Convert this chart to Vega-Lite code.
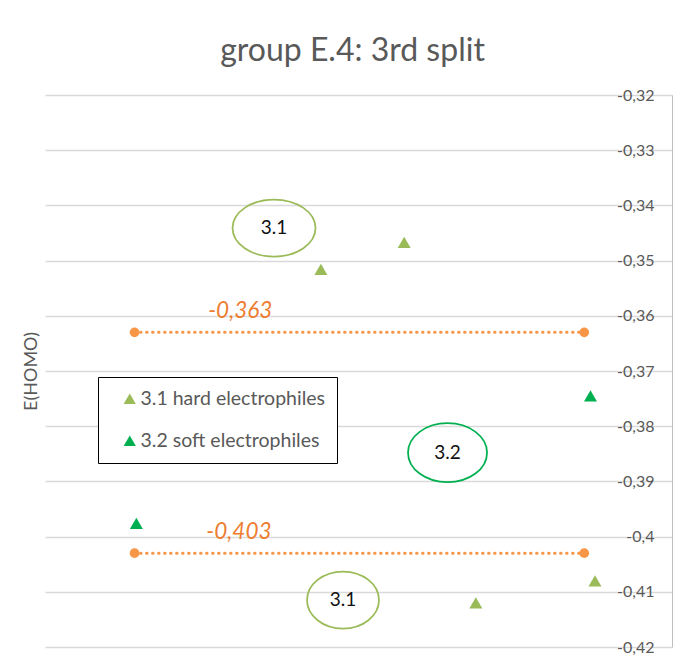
{
  "$schema": "https://vega.github.io/schema/vega-lite/v6.json",
  "width": 627,
  "height": 552,
  "autosize": "none",
  "padding": {"left": 45, "top": 95, "right": 9, "bottom": 16},
  "background": "white",
  "config": {
    "locale": {"number": {"decimal": ",", "thousands": ".", "grouping": [3], "currency": ["", " €"], "minus": "-"}},
    "view": {"stroke": null},
    "font": "Lato"
  },
  "title": {"text": "group E.4: 3rd split", "fontSize": 32, "font": "Lato", "fontWeight": "normal", "color": "#595959", "offset": 19, "dx": -6},
  "datasets": {
    "lines": [
      {"x": 1.0, "y": -0.363, "g": "a"},
      {"x": 6.02, "y": -0.363, "g": "a"},
      {"x": 1.0, "y": -0.403, "g": "b"},
      {"x": 6.02, "y": -0.403, "g": "b"}
    ],
    "pts": [
      {"x": 3.08, "y": -0.3516, "series": "3.1 hard electrophiles"},
      {"x": 4.01, "y": -0.3467, "series": "3.1 hard electrophiles"},
      {"x": 4.81, "y": -0.412, "series": "3.1 hard electrophiles"},
      {"x": 6.14, "y": -0.408, "series": "3.1 hard electrophiles"},
      {"x": 1.02, "y": -0.3976, "series": "3.2 soft electrophiles"},
      {"x": 6.09, "y": -0.3745, "series": "3.2 soft electrophiles"}
    ],
    "ell": [
      {"x": 2.557, "y": -0.3441, "label": "3.1", "id": "a", "grp": "3.1"},
      {"x": 4.494, "y": -0.3848, "label": "3.2", "id": "b", "grp": "3.2"},
      {"x": 3.327, "y": -0.4115, "label": "3.1", "id": "c", "grp": "3.1"}
    ],
    "vals": [
      {"x": 2.18, "y": -0.3592, "text": "-0,363"},
      {"x": 2.165, "y": -0.3991, "text": "-0,403"}
    ]
  },
  "layer": [
    {
      "data": {"name": "lines"},
      "mark": {"type": "line", "color": "#F79646", "strokeWidth": 3, "strokeDash": [0.5, 5.5], "strokeCap": "round"},
      "encoding": {
        "x": {"field": "x", "type": "quantitative", "scale": {"domain": [0, 7], "nice": false, "zero": false}, "axis": null},
        "y": {"field": "y", "type": "quantitative", "scale": {"domain": [-0.42, -0.32], "nice": false, "zero": false},
          "axis": {"orient": "right", "values": [-0.42, -0.41, -0.4, -0.39, -0.38, -0.37, -0.36, -0.35, -0.34, -0.33, -0.32],
            "format": ".2~f", "title": null, "ticks": false, "tickSize": 0, "labelAlign": "right", "labelPadding": -18,
            "labelBaseline": "middle", "labelFlush": false, "labelOverlap": false, "labelColor": "#595959", "labelFontSize": 16, "labelFont": "Lato",
            "domain": true, "domainColor": "#BFBFBF", "domainWidth": 1, "grid": true, "gridColor": "#D9D9D9", "gridWidth": 1.3}},
        "detail": {"field": "g"}
      }
    },
    {
      "data": {"name": "lines"},
      "mark": {"type": "point", "shape": "circle", "filled": true, "size": 95, "color": "#F79646", "opacity": 1},
      "encoding": {
        "x": {"field": "x", "type": "quantitative"},
        "y": {"field": "y", "type": "quantitative",
          "axis": {"orient": "left", "labels": false, "ticks": false, "domain": false, "grid": false, "title": "E(HOMO)",
            "titleFontSize": 18, "titleFont": "Lato", "titleColor": "#595959", "titleFontWeight": "normal", "titlePadding": 5}}
      }
    },
    {
      "data": {"name": "pts"},
      "mark": {"type": "point", "shape": "triangle-up", "filled": true, "size": 169, "opacity": 1},
      "encoding": {
        "x": {"field": "x", "type": "quantitative"},
        "y": {"field": "y", "type": "quantitative", "axis": null},
        "color": {"field": "series", "type": "nominal",
          "scale": {"domain": ["3.1 hard electrophiles", "3.2 soft electrophiles"], "range": ["#9BBB59", "#00B050"]},
          "legend": {"orient": "none", "legendX": 53, "legendY": 282, "title": null, "strokeColor": "black",
            "fillColor": "white", "padding": 12, "rowPadding": 21, "labelFontSize": 19.5, "labelFont": "Lato", "labelColor": "#595959",
            "labelLimit": 400, "symbolType": "triangle-up", "symbolSize": 150, "symbolOffset": 10, "labelOffset": 1,
            "encode": {"legend": {"update": {"strokeWidth": {"value": 1.5}}}}}}
      }
    },
    {
      "data": {"name": "ell"},
      "mark": {"type": "point", "filled": false, "size": 6889, "strokeWidth": 1.75, "opacity": 1},
      "encoding": {
        "x": {"field": "x", "type": "quantitative"},
        "y": {"field": "y", "type": "quantitative", "axis": null},
        "shape": {"field": "id", "type": "nominal", "legend": null,
          "scale": {"domain": ["a", "b", "c"], "range": [
            "M-1,0 A1,0.687 0 1,1 1,0 A1,0.687 0 1,1 -1,0 Z",
            "M-0.952,0 A0.952,0.711 0 1,1 0.952,0 A0.952,0.711 0 1,1 -0.952,0 Z",
            "M-0.867,0 A0.867,0.687 0 1,1 0.867,0 A0.867,0.687 0 1,1 -0.867,0 Z"]}},
        "stroke": {"field": "grp", "type": "nominal", "legend": null, "scale": {"domain": ["3.1", "3.2"], "range": ["#9BBB59", "#00B050"]}}
      }
    },
    {
      "data": {"name": "ell"},
      "mark": {"type": "text", "fontSize": 19, "font": "Lato", "color": "#111111", "align": "center", "baseline": "middle"},
      "encoding": {
        "x": {"field": "x", "type": "quantitative"},
        "y": {"field": "y", "type": "quantitative", "axis": null},
        "text": {"field": "label"}
      }
    },
    {
      "data": {"name": "vals"},
      "mark": {"type": "text", "fontSize": 22.5, "font": "Lato", "fontStyle": "italic", "color": "#ED7D31", "align": "center", "baseline": "middle"},
      "encoding": {
        "x": {"field": "x", "type": "quantitative"},
        "y": {"field": "y", "type": "quantitative", "axis": null},
        "text": {"field": "text"}
      }
    }
  ],
  "resolve": {"axis": {"y": "independent"}}
}
